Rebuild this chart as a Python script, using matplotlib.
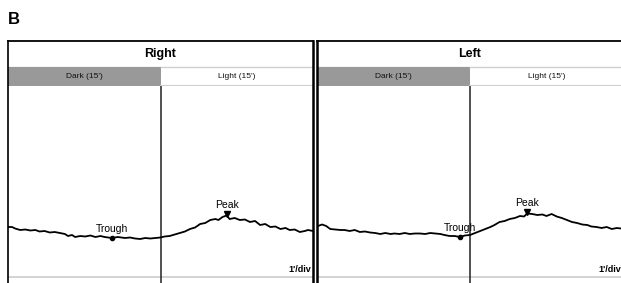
import numpy as np
import matplotlib
matplotlib.use("Agg")
import matplotlib.pyplot as plt

plt.rcParams['font.family'] = ['Liberation Sans', 'DejaVu Sans']

# minutes from start of each recording, and trace level (arbitrary units)
right_t = [0, 0.4, 0.7, 1.2, 1.7, 2.2, 2.7, 3.1, 3.6, 4.1, 4.6, 5.1, 5.6, 5.9, 6.3,
           6.6, 7.1, 7.6, 8.1, 8.6, 9.1, 9.5, 10.2, 10.8, 11.5, 12.0, 12.5, 13.0,
           13.5, 14.0, 14.5, 15.0, 15.4, 15.9, 16.4, 16.9, 17.4, 17.9, 18.4, 18.9,
           19.4, 19.9, 20.4, 20.7, 21.1, 21.5, 21.8, 22.3, 22.8, 23.3, 23.8, 24.3,
           24.8, 25.3, 25.8, 26.3, 26.8, 27.3, 27.7, 28.2, 28.7, 29.2, 29.5, 30.0]
right_v = [50, 50, 48.5, 47, 47.5, 46.5, 47, 45.5, 46, 44.5, 45, 44, 43, 41, 42,
           40, 41, 40.5, 41.5, 40, 41, 40, 39, 40, 39, 39.5, 38.5, 38,
           39, 38.5, 39, 39.5, 40.5, 41, 42.5, 44, 45.5, 48, 49.5, 53,
           54, 57, 58, 57, 60, 61.5, 58, 59, 57, 57.5, 55, 56,
           52, 53, 50, 50.5, 48, 49, 47, 47.5, 45, 46, 47, 46]
right_trough = (10.2, 39)
right_peak = (21.5, 61.5)

left_t = [0.1, 0.5, 0.9, 1.3, 1.8, 2.3, 2.7, 3.2, 3.7, 4.2, 4.7, 5.2, 5.7, 6.2, 6.7,
          7.2, 7.6, 8.1, 8.6, 9.1, 9.6, 10.1, 10.6, 11.1, 11.6, 12.1, 12.5, 13.0,
          13.5, 14.0, 14.5, 15.0, 15.5, 16.0, 16.5, 17.0, 17.4, 17.9, 18.4, 18.9,
          19.4, 19.9, 20.3, 20.6, 21.1, 21.6, 22.1, 22.5, 23.0, 23.5, 24.0, 24.5,
          25.0, 25.5, 26.0, 26.5, 26.9, 27.4, 27.9, 28.4, 28.9, 29.4, 29.8, 30.0]
left_v = [51, 52.5, 51, 48, 47.5, 47, 47, 46, 47, 45, 45.5, 44.5, 44, 43, 44,
          43, 43.5, 43, 44, 43, 43.5, 43.5, 43, 44, 43.5, 43, 42, 41,
          41, 40, 41.5, 42, 44, 46, 48, 50, 52, 55, 56, 58,
          59, 61, 60.5, 63.5, 63, 62, 62.5, 61, 63, 60.5, 59, 57,
          55, 54, 52.5, 52, 50.5, 50, 49, 50, 48, 49, 48.5, 48.5]
left_trough = (14.0, 40)
left_peak = (20.6, 63.5)

W, H = 621, 283
fig = plt.figure(figsize=(W / 100, H / 100), dpi=100)


def box(x0, y0, x1, y1):
    return [x0 / W, 1 - y1 / H, (x1 - x0) / W, (y1 - y0) / H]


def panel(x0, x1, title, t, v, trough, peak, lw_left, lw_right):
    # title row
    ax = fig.add_axes(box(x0, 41.5, x1, 67))
    ax.set_xlim(0, 30); ax.set_ylim(0, 1); ax.axis('off')
    ax.axhline(0, color='#cfcfcf', lw=1)
    ax.text(15, 0.5, title, ha='center', va='center', fontsize=9, fontweight='bold')

    # dark / light header
    ax = fig.add_axes(box(x0, 67, x1, 86))
    ax.set_xlim(0, 30); ax.set_ylim(0, 1); ax.axis('off')
    ax.axvspan(0, 15, color='#999999', lw=0)
    ax.axhline(1, 15 / 30, 1, color='#cfcfcf', lw=1)
    ax.axhline(0, 15 / 30, 1, color='#cfcfcf', lw=1.5)
    ax.text(7.5, 0.5, "Dark (15')", ha='center', va='center', fontsize=6, color='#111111')
    ax.text(22.5, 0.5, "Light (15')", ha='center', va='center', fontsize=6, color='#111111')

    # trace
    ax = fig.add_axes(box(x0, 86, x1, 290))
    ax.set_xlim(0, 30); ax.set_ylim(-13, 191); ax.axis('off')
    ax.axhline(0, color='#cccccc', lw=1.2)
    ax.axvline(15, color='#333333', lw=1.2)
    ax.plot(t, v, color='black', lw=1.3)
    ax.plot(*trough, 'o', color='black', ms=3)
    ax.plot(peak[0], peak[1] + 2, 'v', color='black', ms=4)
    ax.text(trough[0], trough[1] + 4, 'Trough', ha='center', va='bottom', fontsize=7.5)
    ax.text(peak[0], peak[1] + 5, 'Peak', ha='center', va='bottom', fontsize=7.5)
    ax.text(29.8, 7, "1'/div", ha='right', va='center', fontsize=6.5, fontweight='bold')

    # frame
    ax = fig.add_axes(box(x0, 41.5, x1, 290), facecolor='none')
    ax.set_xticks([]); ax.set_yticks([])
    ax.spines['bottom'].set_visible(False)
    ax.spines['top'].set_linewidth(1.3)
    ax.spines['left'].set_linewidth(lw_left)
    ax.spines['right'].set_linewidth(lw_right)


panel(8, 313, 'Right', right_t, right_v, right_trough, right_peak, 1.2, 1.8)
panel(317, 623, 'Left', left_t, left_v, left_trough, left_peak, 1.8, 1.2)

fig.text(8 / W, 1 - 20 / H, 'B', fontsize=12, fontweight='bold', va='center', ha='left')

fig.savefig('out.png', dpi=100)
